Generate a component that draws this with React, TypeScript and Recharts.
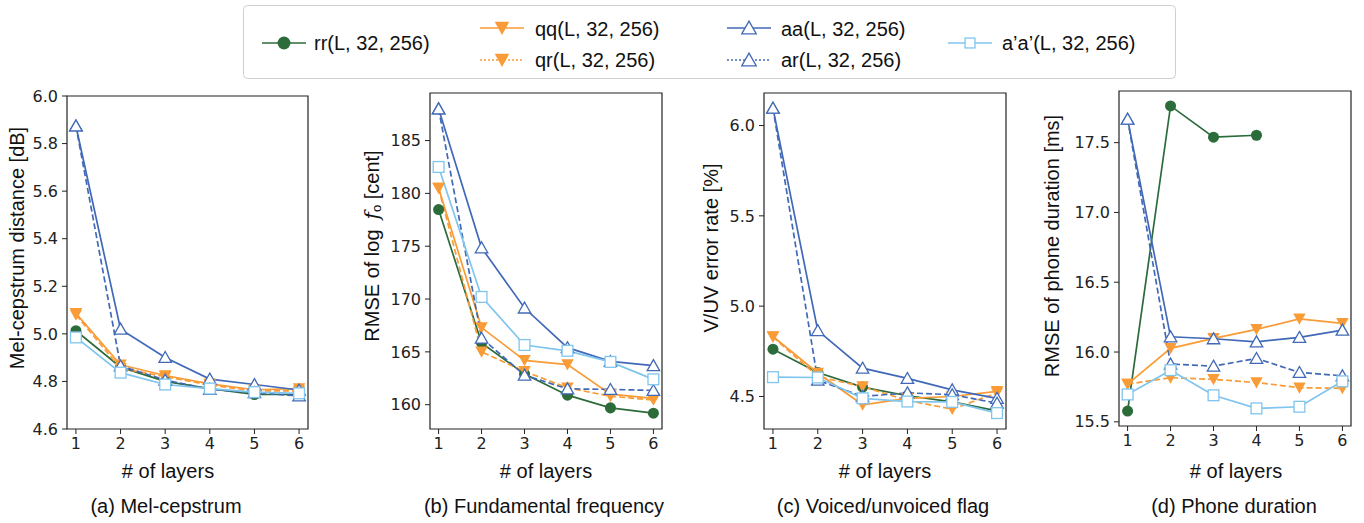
import React from "react";
import { LineChart, Line, XAxis, YAxis, ReferenceArea } from "recharts";

const layers = [1, 2, 3, 4, 5, 6];

// (a) Mel-cepstrum distance [dB]
const melRR = [5.013, 4.86, 4.8, 4.77, 4.745, 4.745];
const melQQ = [5.086, 4.87, 4.825, 4.79, 4.765, 4.77];
const melQR = [5.08, 4.855, 4.82, 4.785, 4.76, 4.76];
const melAA = [5.874, 5.02, 4.901, 4.81, 4.787, 4.764];
const melAR = [5.874, 4.865, 4.806, 4.767, 4.753, 4.739];
const melA2 = [4.985, 4.837, 4.787, 4.77, 4.755, 4.75];

// (b) RMSE of log f0 [cent]
const f0RR = [178.47, 165.85, 162.9, 160.9, 159.7, 159.2];
const f0QQ = [180.5, 167.3, 164.2, 163.8, 161.0, 160.6];
const f0QR = [180.5, 165.0, 163.15, 161.6, 160.8, 160.45];
const f0AA = [188.0, 174.85, 169.15, 165.4, 164.1, 163.7];
const f0AR = [188.0, 166.3, 162.8, 161.5, 161.45, 161.35];
const f0A2 = [182.5, 170.2, 165.65, 165.1, 164.05, 162.4];

// (c) V/UV error rate [%]
const vuvRR = [4.762, 4.633, 4.552, 4.504, 4.47, 4.42];
const vuvQQ = [4.832, 4.63, 4.454, 4.49, 4.5, 4.528];
const vuvQR = [4.83, 4.61, 4.555, 4.478, 4.43, 4.52];
const vuvAA = [6.096, 4.865, 4.657, 4.6, 4.537, 4.49];
const vuvAR = [6.096, 4.59, 4.5, 4.52, 4.51, 4.463];
const vuvA2 = [4.607, 4.605, 4.49, 4.472, 4.47, 4.408];

// (d) RMSE of phone duration [ms]
const durRR = [15.577, 17.763, 17.539, 17.553, null, null];
const durQQ = [15.77, 16.026, 16.098, 16.162, 16.238, 16.205];
const durQR = [15.77, 15.816, 15.804, 15.782, 15.744, 15.74];
const durAA = [17.668, 16.109, 16.095, 16.073, 16.105, 16.157];
const durAR = [17.668, 15.914, 15.899, 15.954, 15.854, 15.83];
const durA2 = [15.696, 15.87, 15.69, 15.596, 15.608, 15.79];

const melTicks = [4.6, 4.8, 5.0, 5.2, 5.4, 5.6, 5.8, 6.0];
const f0Ticks = [160, 165, 170, 175, 180, 185];
const vuvTicks = [4.5, 5.0, 5.5, 6.0];
const durTicks = [15.5, 16.0, 16.5, 17.0, 17.5];

const GREEN = "#2c6b3a";
const ORANGE = "#f99b36";
const BLUE = "#4169b7";
const LIGHT = "#7fc5ee";
const INK = "#222";
const LABEL_FONT = "'Liberation Sans', Arial, sans-serif";
const TICK_FONT = "'DejaVu Sans', sans-serif";

type Kind = "circle" | "down" | "up" | "square";

const series: { key: string; name: string; color: string; dash?: string; legendDash?: string; kind: Kind }[] = [
  { key: "rr", name: "rr(L, 32, 256)", color: GREEN, kind: "circle" },
  { key: "qq", name: "qq(L, 32, 256)", color: ORANGE, kind: "down" },
  { key: "qr", name: "qr(L, 32, 256)", color: ORANGE, dash: "6 3", legendDash: "2 2", kind: "down" },
  { key: "aa", name: "aa(L, 32, 256)", color: BLUE, kind: "up" },
  { key: "ar", name: "ar(L, 32, 256)", color: BLUE, dash: "6 3", legendDash: "2 2", kind: "up" },
  { key: "a2", name: "a\u2019a\u2019(L, 32, 256)", color: LIGHT, kind: "square" },
];

function rows(values: (number | null)[][]) {
  return layers.map((layer, i) => {
    const row: Record<string, number | null> = { layer };
    series.forEach((s, j) => (row[s.key] = values[j][i]));
    return row;
  });
}

function markerShape(kind: Kind, color: string, cx: number, cy: number, s: number) {
  if (kind === "circle") return <circle cx={cx} cy={cy} r={s * 0.46} fill={color} />;
  if (kind === "down") {
    const w = s * 0.52;
    return (
      <path
        d={`M${cx - w},${cy - w * 0.85} L${cx + w},${cy - w * 0.85} L${cx},${cy + w * 0.95} Z`}
        fill={color}
      />
    );
  }
  if (kind === "up") {
    const w = s * 0.52;
    return (
      <path
        d={`M${cx},${cy - w * 0.95} L${cx + w},${cy + w * 0.8} L${cx - w},${cy + w * 0.8} Z`}
        fill="#fff"
        stroke={color}
        strokeWidth={1.3}
      />
    );
  }
  const h = s * 0.45;
  return <rect x={cx - h} y={cy - h} width={h * 2} height={h * 2} fill="#fff" stroke={color} strokeWidth={1.3} />;
}

const panels = [
  {
    id: "a",
    data: rows([melRR, melQQ, melQR, melAA, melAR, melA2]),
    plot: { l: 67, r: 308, t: 96, b: 429 },
    domain: [4.6, 6.0],
    ticks: melTicks,
    digits: 1,
    yLabel: { x: 17, y: 248 },
    xLabelX: 168,
    caption: "(a) Mel-cepstrum",
  },
  {
    id: "b",
    data: rows([f0RR, f0QQ, f0QR, f0AA, f0AR, f0A2]),
    plot: { l: 430, r: 662, t: 93, b: 429 },
    domain: [157.7, 189.5],
    ticks: f0Ticks,
    digits: 0,
    yLabel: { x: 372, y: 246 },
    xLabelX: 546,
    caption: "(b) Fundamental frequency",
  },
  {
    id: "c",
    data: rows([vuvRR, vuvQQ, vuvQR, vuvAA, vuvAR, vuvA2]),
    plot: { l: 764, r: 1006, t: 93, b: 429 },
    domain: [4.32, 6.18],
    ticks: vuvTicks,
    digits: 1,
    yLabel: { x: 711, y: 248 },
    xLabelX: 885,
    caption: "(c) Voiced/unvoiced flag",
  },
  {
    id: "d",
    data: rows([durRR, durQQ, durQR, durAA, durAR, durA2]),
    plot: { l: 1119, r: 1351, t: 91, b: 426 },
    domain: [15.47, 17.87],
    ticks: durTicks,
    digits: 1,
    yLabel: { x: 1052, y: 246 },
    xLabelX: 1236,
    caption: "(d) Phone duration",
  },
];

const yLabels: Record<string, React.ReactNode> = {
  a: "Mel-cepstrum distance [dB]",
  b: (
    <>
      RMSE of log{"\u2002"}
      <tspan fontStyle="italic" fontFamily="'DejaVu Serif', serif">f</tspan>
      <tspan fontSize={13} dy={4}>o</tspan>
      <tspan dy={-4}> [cent]</tspan>
    </>
  ),
  c: "V/UV error rate [%]",
  d: "RMSE of phone duration [ms]",
};

const legendPos = [
  { lx: 262, my: 43, tx: 314, ty: 50 },
  { lx: 480, my: 28, tx: 535, ty: 36 },
  { lx: 480, my: 60, tx: 535, ty: 67 },
  { lx: 727, my: 28, tx: 781, ty: 36 },
  { lx: 727, my: 60, tx: 781, ty: 67 },
  { lx: 948, my: 43, tx: 1002, ty: 50 },
];

const Y_AXIS_W = 60;
const X_AXIS_H = 30;

function Panel({ p }: { p: (typeof panels)[number] }) {
  const left = p.plot.l - Y_AXIS_W;
  const width = p.plot.r - left + 10;
  const height = p.plot.b + 40;
  const tick = { fontSize: 16, fill: INK, fontFamily: TICK_FONT };
  return (
    <div style={{ position: "absolute", left, top: 0 }}>
      <LineChart
        width={width}
        height={height}
        data={p.data}
        margin={{ top: p.plot.t, right: 10, bottom: 40 - X_AXIS_H, left: 0 }}
      >
        <XAxis
          type="number"
          dataKey="layer"
          domain={[0.8, 6.2]}
          ticks={layers}
          allowDataOverflow
          axisLine={false}
          tickLine={{ stroke: INK }}
          tickSize={5}
          tickMargin={4}
          height={X_AXIS_H}
          tick={tick}
        />
        <YAxis
          type="number"
          domain={p.domain}
          ticks={p.ticks}
          allowDataOverflow
          axisLine={false}
          tickLine={{ stroke: INK }}
          tickSize={5}
          tickMargin={4}
          width={Y_AXIS_W}
          tick={tick}
          tickFormatter={(v: number) => v.toFixed(p.digits)}
        />
        <ReferenceArea
          x1={0.8}
          x2={6.2}
          y1={p.domain[0]}
          y2={p.domain[1]}
          fill="none"
          stroke={INK}
          strokeWidth={1.2}
          ifOverflow="visible"
        />
        {series.map((s) => (
          <Line
            key={s.key}
            dataKey={s.key}
            stroke={s.color}
            strokeWidth={1.7}
            strokeDasharray={s.dash}
            connectNulls={false}
            isAnimationActive={false}
            activeDot={false}
            dot={(props: any) => (
              <g key={`${s.key}-${props.index}`}>
                {props.cx != null && props.cy != null && props.value != null
                  ? markerShape(s.kind, s.color, props.cx, props.cy, 12)
                  : null}
              </g>
            )}
          />
        ))}
      </LineChart>
    </div>
  );
}

export default function App() {
  return (
    <div style={{ position: "absolute", left: 0, top: 0, width: 1364, height: 523, background: "#fff" }}>
      {panels.map((p) => (
        <Panel key={p.id} p={p} />
      ))}
      <svg
        width={1364}
        height={523}
        style={{ position: "absolute", left: 0, top: 0, pointerEvents: "none" }}
        fontFamily={LABEL_FONT}
      >
        <rect x={243.5} y={5.5} width={932} height={73} rx={4} fill="#fff" stroke="#cfcfcf" />
        {series.map((s, i) => {
          const pos = legendPos[i];
          return (
            <g key={s.key}>
              <line
                x1={pos.lx}
                x2={pos.lx + 44}
                y1={pos.my}
                y2={pos.my}
                stroke={s.color}
                strokeWidth={1.7}
                strokeDasharray={s.legendDash}
              />
              {markerShape(s.kind, s.color, pos.lx + 22, pos.my, s.kind === "square" ? 11 : 14)}
              <text x={pos.tx} y={pos.ty} fontSize={20} fill="#111">
                {s.name}
              </text>
            </g>
          );
        })}
        {panels.map((p) => (
          <g key={p.id} fill="#111" fontSize={20}>
            <text
              x={p.yLabel.x}
              y={p.yLabel.y}
              textAnchor="middle"
              dominantBaseline="central"
              transform={`rotate(-90, ${p.yLabel.x}, ${p.yLabel.y})`}
            >
              {yLabels[p.id]}
            </text>
            <text x={p.xLabelX} y={478} textAnchor="middle">
              # of layers
            </text>
            <text x={p.xLabelX - 2} y={513} textAnchor="middle">
              {p.caption}
            </text>
          </g>
        ))}
      </svg>
    </div>
  );
}
